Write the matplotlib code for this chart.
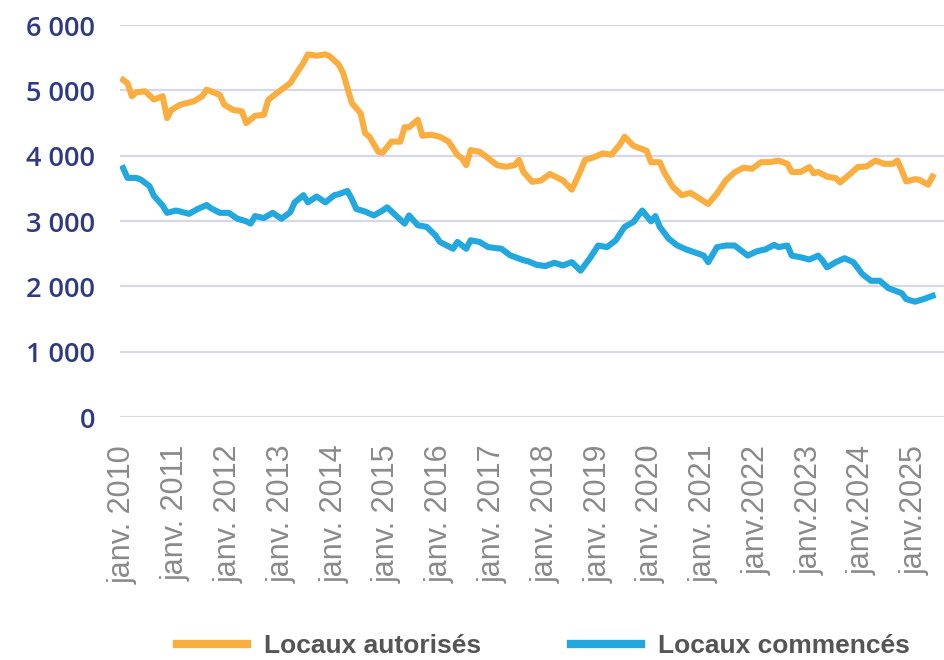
import matplotlib
matplotlib.use("Agg")
import matplotlib.pyplot as plt
from matplotlib.lines import Line2D
import numpy as np

# =========================
# DATA (months since janv. 2010, values)
# =========================
aut_months = [0, 1, 2, 3, 5, 7, 9, 10, 11, 13, 16, 18, 19, 22, 23, 25, 27, 28, 30, 32,
              33, 35, 36, 38, 40, 41, 42, 44, 46, 47, 49, 50, 51, 52, 54, 55, 56, 58, 59,
              61, 63, 64, 65, 67, 68, 70, 72, 74, 76, 77, 78, 79, 81, 83, 85, 87, 89, 90,
              91, 93, 95, 97, 100, 102, 104, 105, 107, 109, 111, 113, 114, 116, 118, 119,
              120, 122, 123, 125, 127, 129, 131, 133, 135, 137, 139, 141, 143, 145, 147,
              149, 151, 152, 154, 156, 157, 158, 160, 162, 163, 165, 167, 169, 171, 173,
              175, 176, 177, 178, 180, 181, 183, 184]
aut_values = [5160, 5110, 4910, 4970, 4985, 4860, 4910, 4575, 4700, 4780, 4830, 4910, 5010,
              4930, 4780, 4700, 4680, 4500, 4610, 4625, 4855, 4960, 5010, 5110, 5320, 5420,
              5550, 5530, 5550, 5520, 5395, 5270, 5035, 4805, 4650, 4345, 4290, 4060, 4045,
              4215, 4215, 4435, 4435, 4550, 4305, 4320, 4290, 4215, 4010, 3960, 3855, 4085,
              4060, 3960, 3855, 3830, 3855, 3935, 3750, 3600, 3620, 3720, 3620, 3480, 3770,
              3935, 3975, 4035, 4015, 4175, 4290, 4150, 4100, 4075, 3900, 3900, 3745, 3520,
              3395, 3430, 3345, 3260, 3420, 3620, 3745, 3815, 3800, 3900, 3900, 3925, 3875,
              3750, 3750, 3825, 3730, 3750, 3680, 3655, 3590, 3705, 3825, 3835, 3925, 3875,
              3875, 3925, 3775, 3605, 3640, 3630, 3555, 3680]

com_months = [0, 1, 3, 4, 6, 7, 9, 10, 12, 13, 15, 17, 19, 20, 22, 24, 26, 28, 29, 30, 32,
              34, 36, 38, 39, 41, 42, 44, 46, 48, 49, 51, 52, 53, 55, 57, 59, 60, 62, 64,
              65, 67, 69, 71, 72, 75, 76, 78, 79, 81, 83, 86, 88, 91, 92, 94, 96, 98, 100,
              102, 104, 106, 108, 110, 112, 114, 116, 118, 120, 121, 122, 124, 126, 128,
              131, 132, 133, 135, 137, 139, 142, 144, 146, 148, 149, 151, 152, 154, 156,
              158, 159, 160, 162, 164, 166, 168, 170, 172, 174, 177, 178, 180, 182, 184]
com_values = [3810, 3660, 3660, 3635, 3535, 3385, 3235, 3125, 3160, 3145, 3110, 3185, 3245,
              3195, 3125, 3125, 3035, 2995, 2960, 3075, 3045, 3125, 3035, 3135, 3285, 3395,
              3285, 3375, 3285, 3395, 3410, 3460, 3335, 3185, 3145, 3085, 3160, 3210, 3085,
              2960, 3085, 2935, 2910, 2780, 2680, 2575, 2680, 2575, 2705, 2680, 2600, 2575,
              2475, 2400, 2385, 2330, 2310, 2360, 2320, 2370, 2240, 2420, 2625, 2600, 2705,
              2910, 2985, 3160, 2995, 3075, 2910, 2730, 2625, 2565, 2495, 2470, 2370, 2600,
              2625, 2625, 2470, 2535, 2565, 2635, 2600, 2625, 2470, 2445, 2410, 2470, 2395,
              2290, 2370, 2430, 2370, 2190, 2085, 2085, 1970, 1895, 1805, 1765, 1805, 1855]

years = list(range(2010, 2026))
tick_labels = ["janv. %d" % y if y < 2022 else "janv.%d" % y for y in years]
y_ticks = [0, 1000, 2000, 3000, 4000, 5000, 6000]

# =========================
# PLOT
# =========================
ORANGE = "#FBAE40"
BLUE = "#22A8DF"
NAVY = "#2E3A86"

fig = plt.figure(figsize=(9.44, 6.6), dpi=100)
ax = fig.add_axes([120 / 944, 1 - 417 / 660, 824 / 944, (417 - 25) / 660])

ax.plot(aut_months, aut_values, color=ORANGE, lw=4.4, solid_joinstyle="round")
ax.plot(com_months, com_values, color=BLUE, lw=4.4, solid_joinstyle="round")

ax.set_ylim(0, 6000)
ax.set_xlim(-0.7, 186.6)
ax.set_yticks(y_ticks)
ax.set_yticklabels(["{:,}".format(v).replace(",", " ") for v in y_ticks],
                   fontsize=19.5, color=NAVY, fontweight="semibold",
                   family=["Open Sans", "DejaVu Sans"])
ax.set_xticks([12 * i for i in range(len(years))])
ax.set_xticklabels(tick_labels, rotation=90, fontsize=22, color="#8a8a8a",
                   family=["Liberation Sans", "DejaVu Sans"])

ax.tick_params(axis="both", length=0)
ax.tick_params(axis="y", pad=18)
ax.tick_params(axis="x", pad=20)

for v in y_ticks:
    ax.axhline(v, color="#D6D8E8" if v else "#DCDCDC", lw=1.6, zorder=0)
for s in ax.spines.values():
    s.set_visible(False)

handles = [Line2D([], [], color=ORANGE, lw=6),
           Line2D([], [], color=BLUE, lw=6)]
fig.legend(handles, ["Locaux autorisés", "Locaux commencés"],
           loc="center", bbox_to_anchor=(0.576, 1 - 646 / 660), ncol=2,
           frameon=False, handlelength=2.65, columnspacing=3.4, handletextpad=0.65,
           prop={"family": ["Liberation Sans", "DejaVu Sans"],
                 "weight": "bold", "size": 19},
           labelcolor="#555555")

fig.savefig("out.png", dpi=100)
